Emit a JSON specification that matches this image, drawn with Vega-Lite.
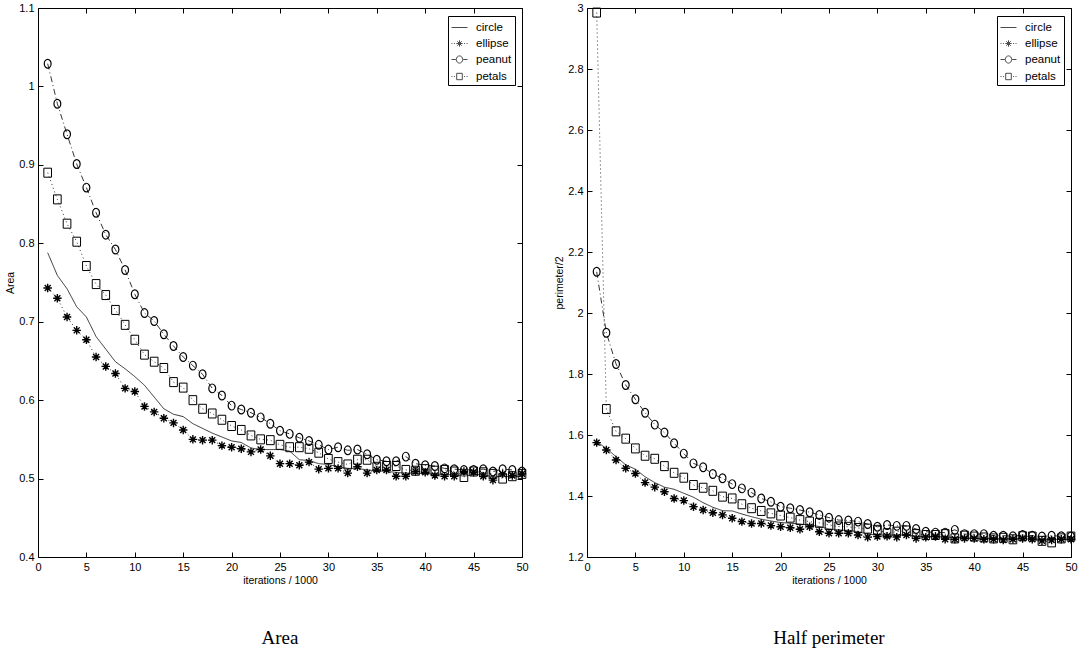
{
  "$schema": "https://vega.github.io/schema/vega-lite/v6.json",
  "background": "white",
  "padding": {"left": 5, "top": 1, "right": 0, "bottom": 0},
  "autosize": {"type": "pad"},
  "bounds": "flush",
  "spacing": 65,
  "config": {
    "font": "Liberation Sans",
    "view": {"stroke": "black", "strokeWidth": 1},
    "axis": {
      "domain": false, "grid": false, "tickColor": "black", "tickSize": -5, "tickWidth": 1,
      "labelColor": "black", "labelFont": "Liberation Sans", "labelFontSize": 11, "labelPadding": 9,
      "labelFlush": false, "labelOverlap": false,
      "titleFont": "Liberation Sans", "titleFontSize": 10.5, "titleFontWeight": "normal", "titleColor": "black"
    },
    "legend": {
      "fillColor": "white", "strokeColor": "black", "padding": 3, "rowPadding": 2,
      "labelFont": "Liberation Sans", "labelFontSize": 11.5, "labelColor": "black", "labelOffset": 8,
      "symbolSize": 256, "symbolStrokeWidth": 1, "symbolStrokeColor": "black", "symbolFillColor": "transparent",
      "symbolType": "stroke"
    }
  },
  "datasets": {
    "area": [
      {"i":1,"s":"circle","v":0.788},{"i":2,"s":"circle","v":0.759},{"i":3,"s":"circle","v":0.742},{"i":4,"s":"circle","v":0.719},{"i":5,"s":"circle","v":0.706},
      {"i":6,"s":"circle","v":0.681},{"i":7,"s":"circle","v":0.665},{"i":8,"s":"circle","v":0.649},{"i":9,"s":"circle","v":0.640},{"i":10,"s":"circle","v":0.630},
      {"i":11,"s":"circle","v":0.619},{"i":12,"s":"circle","v":0.604},{"i":13,"s":"circle","v":0.589},{"i":14,"s":"circle","v":0.582},{"i":15,"s":"circle","v":0.579},
      {"i":16,"s":"circle","v":0.570},{"i":17,"s":"circle","v":0.564},{"i":18,"s":"circle","v":0.558},{"i":19,"s":"circle","v":0.553},{"i":20,"s":"circle","v":0.548},
      {"i":21,"s":"circle","v":0.546},{"i":22,"s":"circle","v":0.539},{"i":23,"s":"circle","v":0.537},{"i":24,"s":"circle","v":0.537},{"i":25,"s":"circle","v":0.537},
      {"i":26,"s":"circle","v":0.535},{"i":27,"s":"circle","v":0.524},{"i":28,"s":"circle","v":0.523},{"i":29,"s":"circle","v":0.519},{"i":30,"s":"circle","v":0.518},
      {"i":31,"s":"circle","v":0.515},{"i":32,"s":"circle","v":0.513},{"i":33,"s":"circle","v":0.513},{"i":34,"s":"circle","v":0.511},{"i":35,"s":"circle","v":0.510},
      {"i":36,"s":"circle","v":0.509},{"i":37,"s":"circle","v":0.508},{"i":38,"s":"circle","v":0.507},{"i":39,"s":"circle","v":0.507},{"i":40,"s":"circle","v":0.506},
      {"i":41,"s":"circle","v":0.506},{"i":42,"s":"circle","v":0.505},{"i":43,"s":"circle","v":0.505},{"i":44,"s":"circle","v":0.503},{"i":45,"s":"circle","v":0.505},
      {"i":46,"s":"circle","v":0.505},{"i":47,"s":"circle","v":0.502},{"i":48,"s":"circle","v":0.503},{"i":49,"s":"circle","v":0.502},{"i":50,"s":"circle","v":0.503},
      {"i":1,"s":"ellipse","v":0.743},{"i":2,"s":"ellipse","v":0.730},{"i":3,"s":"ellipse","v":0.706},{"i":4,"s":"ellipse","v":0.689},{"i":5,"s":"ellipse","v":0.677},
      {"i":6,"s":"ellipse","v":0.655},{"i":7,"s":"ellipse","v":0.643},{"i":8,"s":"ellipse","v":0.634},{"i":9,"s":"ellipse","v":0.615},{"i":10,"s":"ellipse","v":0.611},
      {"i":11,"s":"ellipse","v":0.592},{"i":12,"s":"ellipse","v":0.585},{"i":13,"s":"ellipse","v":0.577},{"i":14,"s":"ellipse","v":0.571},{"i":15,"s":"ellipse","v":0.562},
      {"i":16,"s":"ellipse","v":0.550},{"i":17,"s":"ellipse","v":0.549},{"i":18,"s":"ellipse","v":0.549},{"i":19,"s":"ellipse","v":0.542},{"i":20,"s":"ellipse","v":0.540},
      {"i":21,"s":"ellipse","v":0.538},{"i":22,"s":"ellipse","v":0.534},{"i":23,"s":"ellipse","v":0.537},{"i":24,"s":"ellipse","v":0.529},{"i":25,"s":"ellipse","v":0.519},
      {"i":26,"s":"ellipse","v":0.519},{"i":27,"s":"ellipse","v":0.517},{"i":28,"s":"ellipse","v":0.521},{"i":29,"s":"ellipse","v":0.512},{"i":30,"s":"ellipse","v":0.513},
      {"i":31,"s":"ellipse","v":0.513},{"i":32,"s":"ellipse","v":0.507},{"i":33,"s":"ellipse","v":0.515},{"i":34,"s":"ellipse","v":0.507},{"i":35,"s":"ellipse","v":0.511},
      {"i":36,"s":"ellipse","v":0.511},{"i":37,"s":"ellipse","v":0.503},{"i":38,"s":"ellipse","v":0.503},{"i":39,"s":"ellipse","v":0.509},{"i":40,"s":"ellipse","v":0.508},
      {"i":41,"s":"ellipse","v":0.504},{"i":42,"s":"ellipse","v":0.503},{"i":43,"s":"ellipse","v":0.503},{"i":44,"s":"ellipse","v":0.509},{"i":45,"s":"ellipse","v":0.508},
      {"i":46,"s":"ellipse","v":0.503},{"i":47,"s":"ellipse","v":0.498},{"i":48,"s":"ellipse","v":0.506},{"i":49,"s":"ellipse","v":0.504},{"i":50,"s":"ellipse","v":0.506},
      {"i":1,"s":"peanut","v":1.029},{"i":2,"s":"peanut","v":0.978},{"i":3,"s":"peanut","v":0.939},{"i":4,"s":"peanut","v":0.901},{"i":5,"s":"peanut","v":0.871},
      {"i":6,"s":"peanut","v":0.839},{"i":7,"s":"peanut","v":0.811},{"i":8,"s":"peanut","v":0.792},{"i":9,"s":"peanut","v":0.766},{"i":10,"s":"peanut","v":0.735},
      {"i":11,"s":"peanut","v":0.711},{"i":12,"s":"peanut","v":0.701},{"i":13,"s":"peanut","v":0.684},{"i":14,"s":"peanut","v":0.669},{"i":15,"s":"peanut","v":0.655},
      {"i":16,"s":"peanut","v":0.644},{"i":17,"s":"peanut","v":0.633},{"i":18,"s":"peanut","v":0.615},{"i":19,"s":"peanut","v":0.606},{"i":20,"s":"peanut","v":0.593},
      {"i":21,"s":"peanut","v":0.588},{"i":22,"s":"peanut","v":0.584},{"i":23,"s":"peanut","v":0.578},{"i":24,"s":"peanut","v":0.570},{"i":25,"s":"peanut","v":0.561},
      {"i":26,"s":"peanut","v":0.557},{"i":27,"s":"peanut","v":0.552},{"i":28,"s":"peanut","v":0.548},{"i":29,"s":"peanut","v":0.543},{"i":30,"s":"peanut","v":0.537},
      {"i":31,"s":"peanut","v":0.540},{"i":32,"s":"peanut","v":0.536},{"i":33,"s":"peanut","v":0.537},{"i":34,"s":"peanut","v":0.531},{"i":35,"s":"peanut","v":0.524},
      {"i":36,"s":"peanut","v":0.522},{"i":37,"s":"peanut","v":0.522},{"i":38,"s":"peanut","v":0.528},{"i":39,"s":"peanut","v":0.519},{"i":40,"s":"peanut","v":0.517},
      {"i":41,"s":"peanut","v":0.516},{"i":42,"s":"peanut","v":0.513},{"i":43,"s":"peanut","v":0.512},{"i":44,"s":"peanut","v":0.511},{"i":45,"s":"peanut","v":0.511},
      {"i":46,"s":"peanut","v":0.512},{"i":47,"s":"peanut","v":0.509},{"i":48,"s":"peanut","v":0.512},{"i":49,"s":"peanut","v":0.511},{"i":50,"s":"peanut","v":0.509},
      {"i":1,"s":"petals","v":0.890},{"i":2,"s":"petals","v":0.856},{"i":3,"s":"petals","v":0.825},{"i":4,"s":"petals","v":0.802},{"i":5,"s":"petals","v":0.771},
      {"i":6,"s":"petals","v":0.748},{"i":7,"s":"petals","v":0.734},{"i":8,"s":"petals","v":0.715},{"i":9,"s":"petals","v":0.696},{"i":10,"s":"petals","v":0.677},
      {"i":11,"s":"petals","v":0.658},{"i":12,"s":"petals","v":0.649},{"i":13,"s":"petals","v":0.641},{"i":14,"s":"petals","v":0.623},{"i":15,"s":"petals","v":0.616},
      {"i":16,"s":"petals","v":0.600},{"i":17,"s":"petals","v":0.589},{"i":18,"s":"petals","v":0.583},{"i":19,"s":"petals","v":0.575},{"i":20,"s":"petals","v":0.567},
      {"i":21,"s":"petals","v":0.562},{"i":22,"s":"petals","v":0.555},{"i":23,"s":"petals","v":0.550},{"i":24,"s":"petals","v":0.549},{"i":25,"s":"petals","v":0.543},
      {"i":26,"s":"petals","v":0.540},{"i":27,"s":"petals","v":0.540},{"i":28,"s":"petals","v":0.538},{"i":29,"s":"petals","v":0.533},{"i":30,"s":"petals","v":0.525},
      {"i":31,"s":"petals","v":0.521},{"i":32,"s":"petals","v":0.518},{"i":33,"s":"petals","v":0.524},{"i":34,"s":"petals","v":0.524},{"i":35,"s":"petals","v":0.515},
      {"i":36,"s":"petals","v":0.516},{"i":37,"s":"petals","v":0.516},{"i":38,"s":"petals","v":0.511},{"i":39,"s":"petals","v":0.510},{"i":40,"s":"petals","v":0.512},
      {"i":41,"s":"petals","v":0.510},{"i":42,"s":"petals","v":0.511},{"i":43,"s":"petals","v":0.509},{"i":44,"s":"petals","v":0.502},{"i":45,"s":"petals","v":0.509},
      {"i":46,"s":"petals","v":0.508},{"i":47,"s":"petals","v":0.506},{"i":48,"s":"petals","v":0.500},{"i":49,"s":"petals","v":0.503},{"i":50,"s":"petals","v":0.506}
    ],
    "perim": [
      {"i":1,"s":"circle","v":1.578},{"i":2,"s":"circle","v":1.556},{"i":3,"s":"circle","v":1.529},{"i":4,"s":"circle","v":1.502},{"i":5,"s":"circle","v":1.488},
      {"i":6,"s":"circle","v":1.463},{"i":7,"s":"circle","v":1.444},{"i":8,"s":"circle","v":1.429},{"i":9,"s":"circle","v":1.422},{"i":10,"s":"circle","v":1.409},
      {"i":11,"s":"circle","v":1.396},{"i":12,"s":"circle","v":1.378},{"i":13,"s":"circle","v":1.363},{"i":14,"s":"circle","v":1.352},{"i":15,"s":"circle","v":1.351},
      {"i":16,"s":"circle","v":1.341},{"i":17,"s":"circle","v":1.332},{"i":18,"s":"circle","v":1.324},{"i":19,"s":"circle","v":1.318},{"i":20,"s":"circle","v":1.313},
      {"i":21,"s":"circle","v":1.311},{"i":22,"s":"circle","v":1.308},{"i":23,"s":"circle","v":1.305},{"i":24,"s":"circle","v":1.300},{"i":25,"s":"circle","v":1.292},
      {"i":26,"s":"circle","v":1.289},{"i":27,"s":"circle","v":1.287},{"i":28,"s":"circle","v":1.283},{"i":29,"s":"circle","v":1.275},{"i":30,"s":"circle","v":1.272},
      {"i":31,"s":"circle","v":1.272},{"i":32,"s":"circle","v":1.272},{"i":33,"s":"circle","v":1.272},{"i":34,"s":"circle","v":1.268},{"i":35,"s":"circle","v":1.267},
      {"i":36,"s":"circle","v":1.267},{"i":37,"s":"circle","v":1.265},{"i":38,"s":"circle","v":1.264},{"i":39,"s":"circle","v":1.263},{"i":40,"s":"circle","v":1.261},
      {"i":41,"s":"circle","v":1.261},{"i":42,"s":"circle","v":1.260},{"i":43,"s":"circle","v":1.260},{"i":44,"s":"circle","v":1.259},{"i":45,"s":"circle","v":1.259},
      {"i":46,"s":"circle","v":1.259},{"i":47,"s":"circle","v":1.258},{"i":48,"s":"circle","v":1.258},{"i":49,"s":"circle","v":1.258},{"i":50,"s":"circle","v":1.258},
      {"i":1,"s":"ellipse","v":1.575},{"i":2,"s":"ellipse","v":1.551},{"i":3,"s":"ellipse","v":1.518},{"i":4,"s":"ellipse","v":1.491},{"i":5,"s":"ellipse","v":1.474},
      {"i":6,"s":"ellipse","v":1.444},{"i":7,"s":"ellipse","v":1.429},{"i":8,"s":"ellipse","v":1.414},{"i":9,"s":"ellipse","v":1.392},{"i":10,"s":"ellipse","v":1.385},
      {"i":11,"s":"ellipse","v":1.365},{"i":12,"s":"ellipse","v":1.354},{"i":13,"s":"ellipse","v":1.345},{"i":14,"s":"ellipse","v":1.338},{"i":15,"s":"ellipse","v":1.327},
      {"i":16,"s":"ellipse","v":1.316},{"i":17,"s":"ellipse","v":1.310},{"i":18,"s":"ellipse","v":1.310},{"i":19,"s":"ellipse","v":1.303},{"i":20,"s":"ellipse","v":1.299},
      {"i":21,"s":"ellipse","v":1.296},{"i":22,"s":"ellipse","v":1.291},{"i":23,"s":"ellipse","v":1.299},{"i":24,"s":"ellipse","v":1.283},{"i":25,"s":"ellipse","v":1.278},
      {"i":26,"s":"ellipse","v":1.278},{"i":27,"s":"ellipse","v":1.278},{"i":28,"s":"ellipse","v":1.272},{"i":29,"s":"ellipse","v":1.265},{"i":30,"s":"ellipse","v":1.267},
      {"i":31,"s":"ellipse","v":1.268},{"i":32,"s":"ellipse","v":1.265},{"i":33,"s":"ellipse","v":1.272},{"i":34,"s":"ellipse","v":1.261},{"i":35,"s":"ellipse","v":1.265},
      {"i":36,"s":"ellipse","v":1.267},{"i":37,"s":"ellipse","v":1.258},{"i":38,"s":"ellipse","v":1.258},{"i":39,"s":"ellipse","v":1.261},{"i":40,"s":"ellipse","v":1.261},
      {"i":41,"s":"ellipse","v":1.258},{"i":42,"s":"ellipse","v":1.258},{"i":43,"s":"ellipse","v":1.256},{"i":44,"s":"ellipse","v":1.258},{"i":45,"s":"ellipse","v":1.261},
      {"i":46,"s":"ellipse","v":1.258},{"i":47,"s":"ellipse","v":1.253},{"i":48,"s":"ellipse","v":1.256},{"i":49,"s":"ellipse","v":1.258},{"i":50,"s":"ellipse","v":1.258},
      {"i":1,"s":"peanut","v":2.135},{"i":2,"s":"peanut","v":1.935},{"i":3,"s":"peanut","v":1.833},{"i":4,"s":"peanut","v":1.764},{"i":5,"s":"peanut","v":1.717},
      {"i":6,"s":"peanut","v":1.673},{"i":7,"s":"peanut","v":1.634},{"i":8,"s":"peanut","v":1.608},{"i":9,"s":"peanut","v":1.573},{"i":10,"s":"peanut","v":1.539},
      {"i":11,"s":"peanut","v":1.507},{"i":12,"s":"peanut","v":1.494},{"i":13,"s":"peanut","v":1.472},{"i":14,"s":"peanut","v":1.458},{"i":15,"s":"peanut","v":1.439},
      {"i":16,"s":"peanut","v":1.425},{"i":17,"s":"peanut","v":1.411},{"i":18,"s":"peanut","v":1.392},{"i":19,"s":"peanut","v":1.381},{"i":20,"s":"peanut","v":1.365},
      {"i":21,"s":"peanut","v":1.360},{"i":22,"s":"peanut","v":1.354},{"i":23,"s":"peanut","v":1.347},{"i":24,"s":"peanut","v":1.338},{"i":25,"s":"peanut","v":1.329},
      {"i":26,"s":"peanut","v":1.321},{"i":27,"s":"peanut","v":1.320},{"i":28,"s":"peanut","v":1.316},{"i":29,"s":"peanut","v":1.308},{"i":30,"s":"peanut","v":1.299},
      {"i":31,"s":"peanut","v":1.305},{"i":32,"s":"peanut","v":1.302},{"i":33,"s":"peanut","v":1.302},{"i":34,"s":"peanut","v":1.292},{"i":35,"s":"peanut","v":1.283},
      {"i":36,"s":"peanut","v":1.280},{"i":37,"s":"peanut","v":1.280},{"i":38,"s":"peanut","v":1.289},{"i":39,"s":"peanut","v":1.275},{"i":40,"s":"peanut","v":1.275},
      {"i":41,"s":"peanut","v":1.275},{"i":42,"s":"peanut","v":1.270},{"i":43,"s":"peanut","v":1.270},{"i":44,"s":"peanut","v":1.268},{"i":45,"s":"peanut","v":1.272},
      {"i":46,"s":"peanut","v":1.270},{"i":47,"s":"peanut","v":1.267},{"i":48,"s":"peanut","v":1.270},{"i":49,"s":"peanut","v":1.268},{"i":50,"s":"peanut","v":1.267},
      {"i":1,"s":"petals","v":2.985},{"i":2,"s":"petals","v":1.685},{"i":3,"s":"petals","v":1.612},{"i":4,"s":"petals","v":1.588},{"i":5,"s":"petals","v":1.556},
      {"i":6,"s":"petals","v":1.532},{"i":7,"s":"petals","v":1.522},{"i":8,"s":"petals","v":1.498},{"i":9,"s":"petals","v":1.476},{"i":10,"s":"petals","v":1.460},
      {"i":11,"s":"petals","v":1.436},{"i":12,"s":"petals","v":1.427},{"i":13,"s":"petals","v":1.417},{"i":14,"s":"petals","v":1.398},{"i":15,"s":"petals","v":1.392},
      {"i":16,"s":"petals","v":1.373},{"i":17,"s":"petals","v":1.360},{"i":18,"s":"petals","v":1.351},{"i":19,"s":"petals","v":1.343},{"i":20,"s":"petals","v":1.336},
      {"i":21,"s":"petals","v":1.329},{"i":22,"s":"petals","v":1.321},{"i":23,"s":"petals","v":1.316},{"i":24,"s":"petals","v":1.312},{"i":25,"s":"petals","v":1.305},
      {"i":26,"s":"petals","v":1.300},{"i":27,"s":"petals","v":1.299},{"i":28,"s":"petals","v":1.295},{"i":29,"s":"petals","v":1.293},{"i":30,"s":"petals","v":1.289},
      {"i":31,"s":"petals","v":1.278},{"i":32,"s":"petals","v":1.283},{"i":33,"s":"petals","v":1.287},{"i":34,"s":"petals","v":1.275},{"i":35,"s":"petals","v":1.272},
      {"i":36,"s":"petals","v":1.272},{"i":37,"s":"petals","v":1.275},{"i":38,"s":"petals","v":1.261},{"i":39,"s":"petals","v":1.270},{"i":40,"s":"petals","v":1.267},
      {"i":41,"s":"petals","v":1.264},{"i":42,"s":"petals","v":1.261},{"i":43,"s":"petals","v":1.263},{"i":44,"s":"petals","v":1.258},{"i":45,"s":"petals","v":1.268},
      {"i":46,"s":"petals","v":1.267},{"i":47,"s":"petals","v":1.253},{"i":48,"s":"petals","v":1.248},{"i":49,"s":"petals","v":1.261},{"i":50,"s":"petals","v":1.267}
    ]
  },
  "hconcat": [
    {
      "width": 484, "height": 549,
      "data": {"name": "area"},
      "title": {"text": "Area", "orient": "bottom", "frame": "group", "anchor": "middle", "offset": 43, "font": "Liberation Serif", "fontSize": 19, "fontWeight": "normal", "color": "black"},
      "resolve": {"scale": {"shape": "independent", "size": "independent"}},
      "layer": [
        {
          "mark": {"type": "line", "color": "black", "strokeWidth": 0.8},
          "encoding": {
            "x": {"field": "i", "type": "quantitative", "scale": {"domain": [0, 50], "nice": false, "zero": false},
                  "axis": {"orient": "bottom", "title": "iterations / 1000", "values": [0,5,10,15,20,25,30,35,40,45,50], "titlePadding": 3}},
            "y": {"field": "v", "type": "quantitative", "scale": {"domain": [0.4, 1.1], "nice": false, "zero": false},
                  "axis": {"orient": "left", "title": "Area", "values": [0.4,0.5,0.6,0.7,0.8,0.9,1,1.1], "format": "~g", "titlePadding": 3}},
            "detail": {"field": "s"},
            "strokeDash": {"field": "s", "type": "nominal", "legend": null,
                           "scale": {"domain": ["circle","ellipse","peanut","petals"], "range": [[1,0],[1,3],[6,3,1,3],[1,3]]}}
          }
        },
        {
          "transform": [{"filter": "datum.s != 'circle'"}],
          "mark": {"type": "point", "filled": false, "color": "black", "opacity": 1},
          "encoding": {
            "x": {"field": "i", "type": "quantitative", "axis": null},
            "y": {"field": "v", "type": "quantitative", "axis": null},
            "shape": {"field": "s", "type": "nominal", "legend": null,
                      "scale": {"domain": ["ellipse","peanut","petals"],
                                "range": ["M-1,0L1,0M0,-1L0,1M-0.7,-0.7L0.7,0.7M-0.7,0.7L0.7,-0.7",
                                          "M0.78,0A0.78,1 0 1,1 -0.78,0A0.78,1 0 1,1 0.78,0Z",
                                          "M-0.85,-1L0.85,-1L0.85,1L-0.85,1Z"]}},
            "size": {"field": "s", "type": "nominal", "legend": null,
                     "scale": {"domain": ["ellipse","peanut","petals"], "range": [72, 81, 56]}},
            "strokeWidth": {"field": "s", "type": "nominal", "legend": null,
                     "scale": {"domain": ["ellipse","peanut","petals"], "range": [1.4, 1, 1.1]}}
          }
        },
        {
          "transform": [{"filter": "datum.i < 0"}],
          "mark": {"type": "point", "filled": false, "color": "black", "strokeWidth": 1},
          "encoding": {
            "x": {"field": "i", "type": "quantitative", "axis": {"orient": "top", "labels": false, "title": null, "values": [0,5,10,15,20,25,30,35,40,45,50]}},
            "y": {"field": "v", "type": "quantitative", "axis": {"orient": "right", "labels": false, "title": null, "values": [0.4,0.5,0.6,0.7,0.8,0.9,1,1.1]}},
            "shape": {"field": "s", "type": "nominal",
                      "scale": {"domain": ["circle","ellipse","peanut","petals"],
                                "range": ["M-1,0L1,0",
                                          "M-1,0L-0.88,0M-0.7,0L-0.58,0M0.58,0L0.7,0M0.88,0L1,0M-0.4,0L0.4,0M0,-0.4L0,0.4M-0.28,-0.28L0.28,0.28M-0.28,0.28L0.28,-0.28",
                                          "M-1,0L-0.45,0M0.45,0L1,0M0.4,0A0.4,0.45 0 1,1 -0.4,0A0.4,0.45 0 1,1 0.4,0",
                                          "M-1,0L-0.88,0M-0.7,0L-0.58,0M0.58,0L0.7,0M0.88,0L1,0M-0.35,-0.4L0.35,-0.4L0.35,0.4L-0.35,0.4Z"]},
                      "legend": {"title": null, "orient": "none", "legendX": 410, "legendY": 8}}
          }
        }
      ]
    },
    {
      "width": 484, "height": 549,
      "data": {"name": "perim"},
      "title": {"text": "Half perimeter", "orient": "bottom", "frame": "group", "anchor": "middle", "offset": 43, "font": "Liberation Serif", "fontSize": 19, "fontWeight": "normal", "color": "black"},
      "resolve": {"scale": {"shape": "independent", "size": "independent"}},
      "layer": [
        {
          "mark": {"type": "line", "color": "black", "strokeWidth": 0.8},
          "encoding": {
            "x": {"field": "i", "type": "quantitative", "scale": {"domain": [0, 50], "nice": false, "zero": false},
                  "axis": {"orient": "bottom", "title": "iterations / 1000", "values": [0,5,10,15,20,25,30,35,40,45,50], "titlePadding": 3}},
            "y": {"field": "v", "type": "quantitative", "scale": {"domain": [1.2, 3], "nice": false, "zero": false},
                  "axis": {"orient": "left", "title": "perimeter/2", "values": [1.2,1.4,1.6,1.8,2,2.2,2.4,2.6,2.8,3], "format": "~g", "titlePadding": 3}},
            "detail": {"field": "s"},
            "strokeDash": {"field": "s", "type": "nominal", "legend": null,
                           "scale": {"domain": ["circle","ellipse","peanut","petals"], "range": [[1,0],[1,3],[6,3,1,3],[1,3]]}}
          }
        },
        {
          "transform": [{"filter": "datum.s != 'circle'"}],
          "mark": {"type": "point", "filled": false, "color": "black", "opacity": 1},
          "encoding": {
            "x": {"field": "i", "type": "quantitative", "axis": null},
            "y": {"field": "v", "type": "quantitative", "axis": null},
            "shape": {"field": "s", "type": "nominal", "legend": null,
                      "scale": {"domain": ["ellipse","peanut","petals"],
                                "range": ["M-1,0L1,0M0,-1L0,1M-0.7,-0.7L0.7,0.7M-0.7,0.7L0.7,-0.7",
                                          "M0.78,0A0.78,1 0 1,1 -0.78,0A0.78,1 0 1,1 0.78,0Z",
                                          "M-0.85,-1L0.85,-1L0.85,1L-0.85,1Z"]}},
            "size": {"field": "s", "type": "nominal", "legend": null,
                     "scale": {"domain": ["ellipse","peanut","petals"], "range": [72, 81, 56]}},
            "strokeWidth": {"field": "s", "type": "nominal", "legend": null,
                     "scale": {"domain": ["ellipse","peanut","petals"], "range": [1.4, 1, 1.1]}}
          }
        },
        {
          "transform": [{"filter": "datum.i < 0"}],
          "mark": {"type": "point", "filled": false, "color": "black", "strokeWidth": 1},
          "encoding": {
            "x": {"field": "i", "type": "quantitative", "axis": {"orient": "top", "labels": false, "title": null, "values": [0,5,10,15,20,25,30,35,40,45,50]}},
            "y": {"field": "v", "type": "quantitative", "axis": {"orient": "right", "labels": false, "title": null, "values": [1.2,1.4,1.6,1.8,2,2.2,2.4,2.6,2.8,3]}},
            "shape": {"field": "s", "type": "nominal",
                      "scale": {"domain": ["circle","ellipse","peanut","petals"],
                                "range": ["M-1,0L1,0",
                                          "M-1,0L-0.88,0M-0.7,0L-0.58,0M0.58,0L0.7,0M0.88,0L1,0M-0.4,0L0.4,0M0,-0.4L0,0.4M-0.28,-0.28L0.28,0.28M-0.28,0.28L0.28,-0.28",
                                          "M-1,0L-0.45,0M0.45,0L1,0M0.4,0A0.4,0.45 0 1,1 -0.4,0A0.4,0.45 0 1,1 0.4,0",
                                          "M-1,0L-0.88,0M-0.7,0L-0.58,0M0.58,0L0.7,0M0.88,0L1,0M-0.35,-0.4L0.35,-0.4L0.35,0.4L-0.35,0.4Z"]},
                      "legend": {"title": null, "orient": "none", "legendX": 410, "legendY": 8}}
          }
        }
      ]
    }
  ]
}
